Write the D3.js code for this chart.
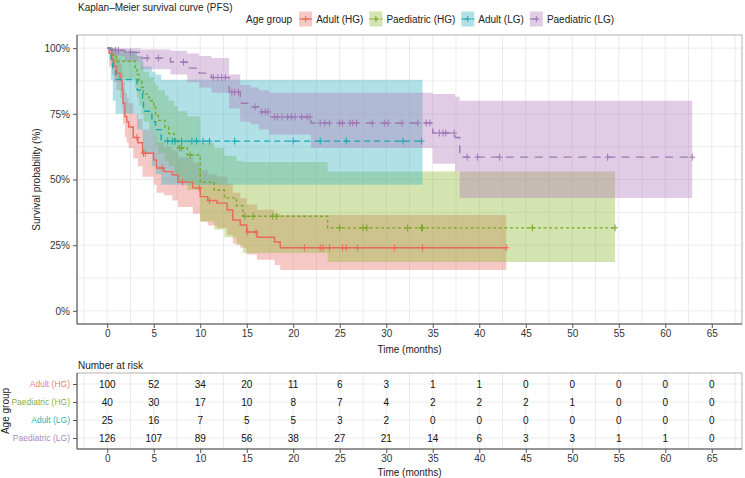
<!DOCTYPE html>
<html><head><meta charset="utf-8">
<script src="https://cdn.jsdelivr.net/npm/d3@7"></script>
<style>body{margin:0;background:#fff} text{font-family:"Liberation Sans",Arial,Helvetica,sans-serif}</style>
</head><body><svg id="c" width="745" height="478"></svg>
<script>
// ---------------- data ----------------
const groups = ["Adult (HG)","Paediatric (HG)","Adult (LG)","Paediatric (LG)"];

const adultHG_time  = [0,0.2,0.5,0.7,1.0,1.4,1.6,1.7,1.9,2.1,2.3,2.8,3.3,3.8,5.0,5.3,6.1,7.0,7.6,9.2,10.0,10.8,11.8,12.9,13.5,14.3,15.0,16.1,18.0,18.6];
const adultHG_surv  = [1,0.98,0.955,0.93,0.905,0.878,0.84,0.79,0.74,0.72,0.70,0.66,0.64,0.60,0.574,0.544,0.53,0.517,0.49,0.468,0.435,0.42,0.41,0.384,0.346,0.327,0.30,0.28,0.262,0.24];
const adultHG_lower = [1,0.93,0.90,0.87,0.84,0.81,0.77,0.71,0.66,0.64,0.62,0.58,0.55,0.51,0.48,0.45,0.44,0.42,0.395,0.37,0.34,0.325,0.315,0.29,0.255,0.24,0.215,0.195,0.175,0.156];
const adultHG_upper = [1,1,0.99,0.975,0.96,0.94,0.91,0.87,0.83,0.81,0.79,0.75,0.73,0.69,0.665,0.64,0.625,0.61,0.585,0.565,0.535,0.52,0.51,0.485,0.45,0.43,0.405,0.385,0.37,0.365];
const adultHG_censor = [3.2,3.9,4.1,5.9,8.1,9.9,11.0,15.1,16.0,21.2,22.9,23.2,23.9,25.3,25.7,26.9,30.9,33.9,42.9];
const adultHG_end = 42.9;

const paedHG_time  = [0,0.5,1.0,3.0,3.2,3.4,3.7,3.9,4.5,5.0,5.2,5.5,6.2,6.6,7.2,7.6,8.6,10.0,11.5,12.6,13.9,14.6,23.7];
const paedHG_surv  = [1,0.975,0.95,0.925,0.90,0.875,0.85,0.825,0.80,0.775,0.75,0.725,0.70,0.675,0.65,0.62,0.593,0.49,0.46,0.43,0.40,0.36,0.316];
const paedHG_lower = [1,0.93,0.88,0.85,0.81,0.78,0.75,0.72,0.69,0.66,0.63,0.60,0.57,0.55,0.52,0.49,0.46,0.34,0.31,0.28,0.25,0.22,0.186];
const paedHG_upper = [1,1,0.99,0.98,0.97,0.95,0.93,0.91,0.89,0.87,0.86,0.84,0.82,0.80,0.78,0.76,0.74,0.64,0.62,0.59,0.57,0.567,0.53];
const paedHG_censor = [7.8,8.0,8.9,14.8,15.7,17.8,18.2,25.0,27.5,27.9,32.3,33.8,33.9,45.7,54.6];
const paedHG_end = 54.6;

const adultLG_time  = [0,0.4,0.6,0.9,3.2,3.8,3.9,4.8,5.2,5.8];
const adultLG_surv  = [1,0.96,0.92,0.88,0.84,0.80,0.76,0.72,0.69,0.646];
const adultLG_lower = [1,0.88,0.80,0.75,0.69,0.64,0.60,0.55,0.52,0.48];
const adultLG_upper = [1,1,1,0.99,0.97,0.95,0.93,0.91,0.90,0.88];
const adultLG_censor = [6.5,7.0,7.3,8.0,9.1,9.6,10.3,11.0,13.7,20.0,22.9,25.7,31.8,33.8];
const adultLG_end = 33.9;

const paedLG_time  = [0,0.3,1.9,3.6,6.8,8.6,9.9,11.2,13.1,14.3,15.4,16.3,17.4,21.9,35.0,37.4,37.9];
const paedLG_surv  = [1,0.992,0.984,0.962,0.947,0.924,0.905,0.888,0.833,0.79,0.776,0.757,0.738,0.715,0.677,0.66,0.585];
const paedLG_lower = [1,0.97,0.95,0.92,0.90,0.87,0.85,0.83,0.77,0.72,0.71,0.69,0.67,0.62,0.56,0.53,0.43];
const paedLG_upper = [1,1,1,0.995,0.99,0.98,0.97,0.962,0.90,0.86,0.85,0.84,0.83,0.83,0.825,0.815,0.80];
const paedLG_censor = [0.5,0.9,1.2,2.5,4.3,5.5,8.2,11.4,11.9,12.3,12.7,13.4,13.7,14.1,15.9,16.6,17.0,17.3,18.0,18.3,18.8,19.4,19.8,20.2,20.9,21.5,21.8,22.9,23.4,23.9,25.0,25.3,26.1,26.4,26.8,28.5,29.8,30.2,31.7,33.4,34.3,34.7,35.7,36.1,36.4,37.3,38.7,39.8,42.2,53.8,62.9];
const paedLG_end = 62.9;

const riskTimes   = [0,5,10,15,20,25,30,35,40,45,50,55,60,65];
const risk_adultHG = [100,52,34,20,11,6,3,1,1,0,0,0,0,0];
const risk_paedHG  = [40,30,17,10,8,7,4,2,2,2,1,0,0,0];
const risk_adultLG = [25,16,7,5,5,3,2,0,0,0,0,0,0,0];
const risk_paedLG  = [126,107,89,56,38,27,21,14,6,3,3,1,1,0];

const yTicks = [0,0.25,0.5,0.75,1];
const yTickLabels = ["0%","25%","50%","75%","100%"];
const xTicks = [0,5,10,15,20,25,30,35,40,45,50,55,60,65];

// ---------------- styles ----------------
const fillColors = ["#E8756E","#94BB39","#3DB5C2","#B27FBB"];
const lineColors = ["#E8695C","#79A82B","#17A9B3","#9E78B4"];
const labelColors = ["#EC7F76","#86B03C","#2DB2BC","#AE87C2"];
const dashes = [null,"3,2.6","6,4","8,6.5"];
const bandOpacity = 0.4;

const series = [
  {time:adultHG_time,surv:adultHG_surv,lower:adultHG_lower,upper:adultHG_upper,censor:adultHG_censor,end:adultHG_end},
  {time:paedHG_time,surv:paedHG_surv,lower:paedHG_lower,upper:paedHG_upper,censor:paedHG_censor,end:paedHG_end},
  {time:adultLG_time,surv:adultLG_surv,lower:adultLG_lower,upper:adultLG_upper,censor:adultLG_censor,end:adultLG_end},
  {time:paedLG_time,surv:paedLG_surv,lower:paedLG_lower,upper:paedLG_upper,censor:paedLG_censor,end:paedLG_end}
];
const riskRows = [risk_adultHG,risk_paedHG,risk_adultLG,risk_paedLG];

const svg = d3.select("#c");
const L = 77, R = 742, T = 35, B = 324;
const x = d3.scaleLinear().domain([-3.25,68.25]).range([L,R]);
const y = d3.scaleLinear().domain([-0.05,1.05]).range([B,T]);
const textCol = "#333";
const gridCol = "#E6E6E6";
const FONT = '"Liberation Sans",Arial,sans-serif';

// title
svg.append("text").attr("x",78).attr("y",11).attr("font-size",10).attr("fill","#222")
  .text("Kaplan\u2013Meier survival curve (PFS)");

// legend
const lg = svg.append("g");
let lx = 246; const ly = 19;
const lt = lg.append("text").attr("x",lx).attr("y",ly+3.5).attr("font-size",10).attr("fill","#222").text("Age group");
lx += lt.node().getComputedTextLength() + 7;
groups.forEach((g,i)=>{
  lg.append("rect").attr("x",lx).attr("y",ly-7.5).attr("width",13).attr("height",15)
    .attr("fill",fillColors[i]).attr("fill-opacity",bandOpacity);
  lg.append("line").attr("x1",lx).attr("x2",lx+13).attr("y1",ly).attr("y2",ly)
    .attr("stroke",lineColors[i]).attr("stroke-width",1.2).attr("stroke-dasharray",dashes[i]);
  lg.append("path").attr("d",`M${lx+6.5-3},${ly}H${lx+6.5+3}M${lx+6.5},${ly-3}V${ly+3}`)
    .attr("stroke",lineColors[i]).attr("stroke-width",1);
  lx += 17;
  const t = lg.append("text").attr("x",lx).attr("y",ly+3.5).attr("font-size",10).attr("fill","#222").text(g);
  lx += t.node().getComputedTextLength() + 6;
});

// panel background & grid
svg.append("rect").attr("x",L).attr("y",T).attr("width",R-L).attr("height",B-T).attr("fill","#fff");
const grid = svg.append("g");
d3.range(-2.5,68.25,2.5).forEach(v=>{
  grid.append("line").attr("x1",x(v)).attr("x2",x(v)).attr("y1",T).attr("y2",B).attr("stroke",gridCol).attr("stroke-width",0.8);
});
d3.range(0,1.01,0.125).forEach(v=>{
  grid.append("line").attr("x1",L).attr("x2",R).attr("y1",y(v)).attr("y2",y(v)).attr("stroke",gridCol).attr("stroke-width",0.8);
});

svg.append("clipPath").attr("id","clip").append("rect").attr("x",L).attr("y",T).attr("width",R-L).attr("height",B-T);
const plot = svg.append("g").attr("clip-path","url(#clip)");

function pts(s){
  const p = s.time.map((t,i)=>({t, s:s.surv[i], lo:s.lower[i], hi:s.upper[i]}));
  const last = p[p.length-1];
  p.push({t:s.end, s:last.s, lo:last.lo, hi:last.hi});
  return p;
}
function survAt(s,t){
  let v = s.surv[0];
  for(let i=0;i<s.time.length;i++){ if(s.time[i]<=t) v = s.surv[i]; }
  return v;
}
const area = d3.area().curve(d3.curveStepAfter).x(d=>x(d.t)).y0(d=>y(d.lo)).y1(d=>y(d.hi));
const line = d3.line().curve(d3.curveStepAfter).x(d=>x(d.t)).y(d=>y(d.s));

series.forEach((s,i)=>{
  plot.append("path").attr("d",area(pts(s))).attr("fill",fillColors[i]).attr("fill-opacity",bandOpacity);
});
series.forEach((s,i)=>{
  plot.append("path").attr("d",line(pts(s))).attr("fill","none").attr("stroke",lineColors[i])
    .attr("stroke-width",1.4).attr("stroke-dasharray",dashes[i]);
  s.censor.forEach(c=>{
    const cx = x(c), cy = y(survAt(s,c));
    plot.append("path").attr("d",`M${cx-3},${cy}H${cx+3}M${cx},${cy-3.5}V${cy+3.5}`)
      .attr("stroke",lineColors[i]).attr("stroke-width",1);
  });
});

// border + axes
svg.append("rect").attr("x",L).attr("y",T).attr("width",R-L).attr("height",B-T)
  .attr("fill","none").attr("stroke","#B3B3B3").attr("stroke-width",1);
const axCol = "#555";
svg.append("line").attr("x1",L).attr("x2",L).attr("y1",T).attr("y2",B).attr("stroke",axCol);
svg.append("line").attr("x1",L).attr("x2",R).attr("y1",B).attr("y2",B).attr("stroke",axCol);

const yAx = svg.append("g").attr("transform",`translate(${L},0)`)
  .call(d3.axisLeft(y).tickValues(yTicks).tickFormat((d,i)=>yTickLabels[i]).tickSize(4).tickPadding(3));
const xAx = svg.append("g").attr("transform",`translate(0,${B})`)
  .call(d3.axisBottom(x).tickValues(xTicks).tickSize(4).tickPadding(2));
[yAx,xAx].forEach(a=>{
  a.select(".domain").remove();
  a.selectAll("line").attr("stroke",axCol);
  a.selectAll("text").attr("font-size",10).attr("fill",textCol).attr("font-family",FONT);
});
svg.append("text").attr("x",(L+R)/2).attr("y",353).attr("text-anchor","middle").attr("font-size",10).attr("fill","#222").text("Time (months)");
svg.append("text").attr("transform",`translate(40,${(T+B)/2}) rotate(-90)`).attr("text-anchor","middle").attr("font-size",10).attr("fill","#222").text("Survival probability (%)");

// ---------------- risk table ----------------
const RT = 373, RB = 449;
const yr = d3.scalePoint().domain(groups).range([384,438]);
svg.append("text").attr("x",78).attr("y",369).attr("font-size",10).attr("fill","#222").text("Number at risk");
svg.append("rect").attr("x",L).attr("y",RT).attr("width",R-L).attr("height",RB-RT).attr("fill","#fff");
const rg = svg.append("g");
d3.range(-2.5,68.25,2.5).forEach(v=>{
  rg.append("line").attr("x1",x(v)).attr("x2",x(v)).attr("y1",RT).attr("y2",RB).attr("stroke",gridCol).attr("stroke-width",0.8);
});
groups.forEach(g=>{
  rg.append("line").attr("x1",L).attr("x2",R).attr("y1",yr(g)).attr("y2",yr(g)).attr("stroke",gridCol).attr("stroke-width",0.8);
});
riskRows.forEach((row,i)=>{
  row.forEach((v,j)=>{
    svg.append("text").attr("x",x(riskTimes[j])).attr("y",yr(groups[i])+3.6).attr("text-anchor","middle")
      .attr("font-size",10).attr("fill","#111").text(v);
  });
});
svg.append("rect").attr("x",L).attr("y",RT).attr("width",R-L).attr("height",RB-RT)
  .attr("fill","none").attr("stroke","#B3B3B3");
svg.append("line").attr("x1",L).attr("x2",L).attr("y1",RT).attr("y2",RB).attr("stroke",axCol);
svg.append("line").attr("x1",L).attr("x2",R).attr("y1",RB).attr("y2",RB).attr("stroke",axCol);
const ryAx = svg.append("g").attr("transform",`translate(${L},0)`).call(d3.axisLeft(yr).tickSize(4).tickPadding(3));
const rxAx = svg.append("g").attr("transform",`translate(0,${RB})`).call(d3.axisBottom(x).tickValues(xTicks).tickSize(4).tickPadding(2));
[ryAx,rxAx].forEach(a=>{
  a.select(".domain").remove();
  a.selectAll("line").attr("stroke",axCol);
  a.selectAll("text").attr("font-size",10).attr("fill",textCol).attr("font-family",FONT);
});
ryAx.selectAll("text").attr("font-size",8.5).attr("fill",d=>labelColors[groups.indexOf(d)]);
svg.append("text").attr("x",(L+R)/2).attr("y",476).attr("text-anchor","middle").attr("font-size",10).attr("fill","#222").text("Time (months)");
svg.append("text").attr("transform",`translate(9,${(RT+RB)/2}) rotate(-90)`).attr("text-anchor","middle").attr("font-size",10).attr("fill","#222").text("Age group");
</script></body></html>
